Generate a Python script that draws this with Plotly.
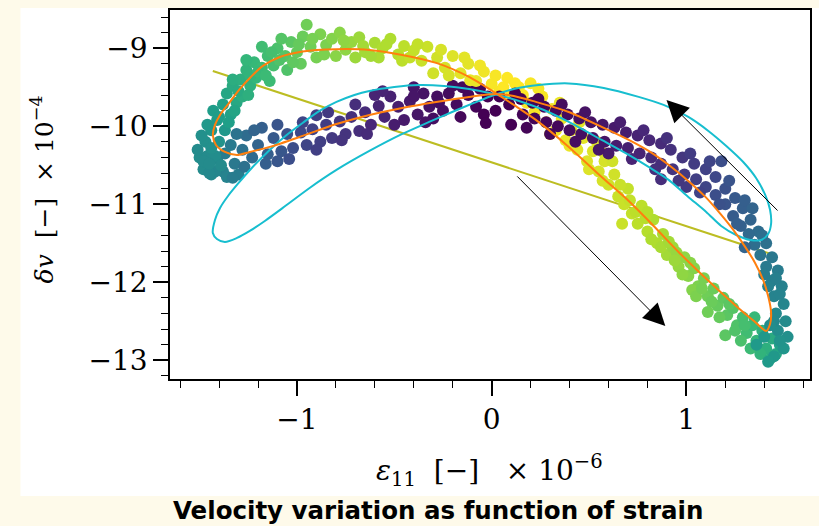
import plotly.graph_objects as go

# ---------------- data ----------------
# upper-left branch (rising, teal -> yellow)
rise_eps = [-1.51, -1.48, -1.45, -1.47, -1.42, -1.44, -1.40, -1.46, -1.41, -1.37, -1.43, -1.38, -1.34, -1.36, -1.31,
            -1.33, -1.28, -1.29, -1.24, -1.26, -1.21, -1.22, -1.18, -1.15, -1.12, -1.10, -1.06, -1.03, -1.00, -0.97,
            -0.95, -0.93, -0.88, -0.85, -0.82, -0.78, -0.75, -0.72, -0.68, -0.65, -0.60, -0.56, -0.52, -0.48, -0.45,
            -0.40, -0.36, -0.33, -0.28, -0.24, -0.20, -0.16, -0.12, -0.08, -0.04, 0.00, 0.04, 0.08, 0.10,
            -1.33, -1.26, -1.18, -1.08, -1.14, -1.05, -0.98, -0.90, -0.80, -0.70, -0.58, -0.46, -0.30, -0.11,
            -1.49, -1.45, -1.39, -1.44, -1.40, -1.35, -1.32, -1.30, -1.25, -1.24, -1.20, -1.16, -1.13, -1.09, -1.02,
            -0.99, -0.92, -0.86, -0.76, -0.66, -0.62, -0.54, -0.42, -0.38, -0.26, -0.22, -0.14, -0.06, 0.02, 0.06, 0.12]
rise_dv = [-10.30, -10.45, -10.60, -10.20, -10.38, -10.05, -10.20, -9.98, -9.92, -10.05, -9.80, -9.72, -9.85, -9.58, -9.70,
           -9.48, -9.62, -9.40, -9.48, -9.28, -9.38, -9.18, -9.25, -9.10, -9.22, -9.00, -9.10, -8.92, -9.05, -8.85,
           -8.70, -8.98, -8.82, -8.96, -8.88, -8.80, -9.02, -8.92, -8.86, -9.05, -8.93, -9.00, -8.88, -9.08, -8.97,
           -9.03, -9.16, -8.98, -9.12, -9.25, -9.10, -9.32, -9.20, -9.42, -9.30, -9.46, -9.55, -9.38, -9.60,
           -9.40, -9.15, -8.98, -8.88, -9.42, -9.28, -9.20, -9.12, -9.10, -9.12, -9.12, -9.16, -9.32, -9.41,
           -10.12, -10.48, -10.50, -10.28, -9.88, -9.95, -9.80, -9.55, -9.60, -9.35, -9.30, -9.35, -9.05, -9.15, -9.18,
           -8.95, -8.88, -9.08, -8.90, -8.97, -9.10, -8.95, -9.12, -8.95, -9.02, -9.35, -9.12, -9.22, -9.35, -9.50, -9.45]
rise_rate = [0.48, 0.48, 0.47, 0.50, 0.49, 0.52, 0.51, 0.53, 0.54, 0.53, 0.55, 0.57, 0.57, 0.59, 0.60,
             0.61, 0.62, 0.63, 0.64, 0.65, 0.66, 0.67, 0.68, 0.69, 0.70, 0.71, 0.73, 0.74, 0.76, 0.77,
             0.78, 0.78, 0.80, 0.80, 0.81, 0.82, 0.83, 0.84, 0.85, 0.86, 0.87, 0.88, 0.88, 0.89, 0.90,
             0.91, 0.92, 0.92, 0.93, 0.94, 0.95, 0.96, 0.96, 0.97, 0.98, 0.99, 0.99, 1.00, 1.00,
             0.62, 0.66, 0.69, 0.73, 0.68, 0.72, 0.76, 0.79, 0.82, 0.85, 0.87, 0.90, 0.93, 0.97,
             0.50, 0.48, 0.48, 0.50, 0.55, 0.56, 0.58, 0.61, 0.63, 0.65, 0.67, 0.68, 0.70, 0.72, 0.75,
             0.76, 0.79, 0.80, 0.83, 0.86, 0.86, 0.88, 0.91, 0.91, 0.94, 0.94, 0.96, 0.98, 0.99, 1.00, 1.00]

# right lower branch (falling, yellow -> teal)
fall_eps = [0.14, 0.18, 0.20, 0.22, 0.26, 0.28, 0.31, 0.33, 0.36, 0.38, 0.41, 0.44, 0.47, 0.49, 0.52, 0.55, 0.58,
            0.60, 0.63, 0.65, 0.68, 0.70, 0.72, 0.75, 0.77, 0.80, 0.83, 0.85, 0.88, 0.90, 0.93, 0.96, 0.99, 1.01,
            1.04, 1.06, 1.09, 1.11, 1.14, 1.16, 1.19, 1.21, 1.24, 1.26, 1.29, 1.31, 1.34, 1.36, 1.39, 1.41, 1.44,
            1.46, 1.48, 0.58, 0.67, 1.11, 1.20, 1.03, 1.28, 0.80, 0.95,
            0.16, 0.24, 0.30, 0.35, 0.40, 0.45, 0.50, 0.54, 0.57, 0.62, 0.66, 0.71, 0.74, 0.79, 0.82, 0.87, 0.91,
            0.94, 0.98, 1.02, 1.05, 1.08, 1.13, 1.17, 1.22, 1.25, 1.30, 1.33, 1.38, 1.43, 1.35]
fall_dv = [-9.50, -9.70, -9.45, -9.82, -9.62, -9.95, -9.78, -10.05, -9.90, -10.18, -10.05, -10.30, -10.15, -10.45,
           -10.32, -10.58, -10.45, -10.75, -10.62, -10.90, -11.00, -10.80, -11.12, -11.25, -11.02, -11.35, -11.20,
           -11.50, -11.38, -11.65, -11.55, -11.80, -11.68, -11.92, -11.82, -12.05, -11.95, -12.18, -12.08, -12.30,
           -12.20, -12.42, -12.33, -12.55, -12.45, -12.65, -12.55, -12.75, -12.62, -12.85, -12.72, -12.92, -12.80,
           -10.35, -11.25, -12.38, -12.68, -12.10, -12.75, -11.10, -11.62,
           -9.60, -9.52, -10.10, -9.70, -10.25, -9.95, -10.55, -10.20, -10.70, -10.45, -10.75, -10.95, -11.10, -11.18,
           -11.45, -11.55, -11.48, -11.72, -11.90, -11.75, -12.18, -12.08, -12.25, -12.45, -12.28, -12.62, -12.55,
           -12.85, -12.92, -12.98, -12.45]
fall_rate = [1.00, 1.00, 0.99, 0.99, 0.99, 0.98, 0.98, 0.98, 0.97, 0.97, 0.97, 0.96, 0.96, 0.95, 0.95, 0.94, 0.94,
             0.93, 0.93, 0.92, 0.92, 0.91, 0.91, 0.90, 0.90, 0.89, 0.88, 0.88, 0.87, 0.86, 0.85, 0.84, 0.83, 0.82,
             0.81, 0.80, 0.79, 0.78, 0.77, 0.76, 0.75, 0.74, 0.73, 0.72, 0.70, 0.69, 0.67, 0.66, 0.64, 0.63, 0.61,
             0.59, 0.57, 0.94, 0.92, 0.78, 0.74, 0.81, 0.71, 0.89, 0.84,
             1.00, 0.99, 0.98, 0.97, 0.97, 0.96, 0.95, 0.95, 0.94, 0.93, 0.92, 0.91, 0.90, 0.89, 0.88, 0.87, 0.86,
             0.85, 0.83, 0.82, 0.80, 0.79, 0.77, 0.76, 0.74, 0.72, 0.70, 0.68, 0.65, 0.62, 0.67]

# right upper branch (recovering, teal -> dark purple)
rec_eps = [1.50, 1.45, 1.52, 1.47, 1.51, 1.46, 1.50, 1.45, 1.49, 1.44, 1.47, 1.41, 1.44, 1.38, 1.41, 1.35, 1.37,
           1.32, 1.33, 1.28, 1.29, 1.24, 1.25, 1.20, 1.20, 1.15, 1.15, 1.10, 1.10, 1.05, 1.04, 0.99, 0.98, 0.93,
           0.92, 0.87, 0.87, 0.82, 0.81, 0.76, 0.75, 0.70, 0.69, 0.64, 0.63, 0.58, 0.57, 0.52, 0.51, 0.46, 0.45,
           0.40, 0.39, 0.34, 0.33, 0.28, 0.27, 0.22, 0.21, 0.16, 0.15, 0.10, 0.09, 0.04, 0.02, -0.03,
           1.36, 1.40, 1.42, 1.30, 1.18, 0.87, 1.00, 0.60, 1.45,
           1.48, 1.43, 1.48, 1.42, 1.46, 1.40, 1.39, 1.34, 1.30, 1.26, 1.22, 1.17, 1.12, 1.07, 1.02, 0.96, 0.90,
           0.84, 0.78, 0.72, 0.66, 0.55, 0.48, 0.43, 0.36, 0.30, 0.24, 0.18, 0.12]
rec_dv = [-12.85, -12.95, -12.70, -12.62, -12.50, -12.40, -12.28, -12.18, -12.05, -11.98, -11.85, -11.80, -11.68,
          -11.65, -11.50, -11.52, -11.35, -11.38, -11.20, -11.28, -11.05, -11.15, -10.92, -11.00, -10.80, -10.88,
          -10.65, -10.78, -10.55, -10.68, -10.48, -10.62, -10.40, -10.55, -10.30, -10.48, -10.22, -10.40, -10.18,
          -10.35, -10.12, -10.28, -10.08, -10.25, -10.02, -10.20, -9.98, -10.15, -9.95, -10.10, -9.90, -10.05,
          -9.85, -10.00, -9.80, -9.95, -9.75, -9.90, -9.70, -9.85, -9.65, -9.98, -9.72, -9.62, -9.80, -9.96,
          -12.80, -12.70, -13.02, -11.55, -10.45, -10.68, -10.78, -10.35, -12.50,
          -12.75, -12.55, -12.15, -12.05, -11.95, -11.90, -11.40, -11.05, -10.95, -11.25, -10.70, -11.00, -10.45,
          -10.85, -10.35, -10.70, -10.15, -10.55, -10.05, -10.42, -9.95, -10.30, -9.82, -10.20, -9.72, -10.10,
          -9.65, -10.02, -9.58]
rec_rate = [0.52, 0.53, 0.50, 0.49, 0.48, 0.47, 0.46, 0.45, 0.44, 0.43, 0.42, 0.41, 0.40, 0.39, 0.37, 0.36, 0.35,
            0.34, 0.32, 0.31, 0.30, 0.29, 0.28, 0.26, 0.25, 0.24, 0.22, 0.21, 0.20, 0.19, 0.18, 0.17, 0.16, 0.15,
            0.14, 0.13, 0.12, 0.12, 0.11, 0.10, 0.10, 0.09, 0.08, 0.08, 0.07, 0.06, 0.06, 0.05, 0.05, 0.04, 0.04,
            0.03, 0.03, 0.02, 0.02, 0.02, 0.01, 0.01, 0.01, 0.01, 0.00, 0.00, 0.00, 0.00, 0.00, 0.00,
            0.54, 0.53, 0.54, 0.32, 0.24, 0.13, 0.17, 0.07, 0.47,
            0.51, 0.49, 0.45, 0.44, 0.43, 0.42, 0.36, 0.32, 0.30, 0.30, 0.26, 0.25, 0.21, 0.20, 0.18, 0.16, 0.14,
            0.13, 0.11, 0.10, 0.08, 0.06, 0.05, 0.04, 0.03, 0.02, 0.01, 0.01, 0.00]

# lower-left branch (returning, dark purple -> teal)
ret_eps = [-0.02, -0.06, -0.08, -0.12, -0.15, -0.18, -0.22, -0.25, -0.28, -0.32, -0.35, -0.38, -0.42, -0.45, -0.48,
           -0.52, -0.55, -0.58, -0.62, -0.65, -0.68, -0.72, -0.75, -0.78, -0.82, -0.85, -0.88, -0.92, -0.95, -0.98,
           -1.02, -1.05, -1.08, -1.12, -1.15, -1.18, -1.20, -1.23, -1.26, -1.28, -1.32, -1.34, -1.38, -1.41, -1.44,
           -1.48, -1.50, -0.30, -0.60, -0.90, -1.10, -0.40, -1.36, -1.30,
           -0.04, -0.10, -0.16, -0.20, -0.27, -0.34, -0.40, -0.50, -0.56, -0.64, -0.70, -0.77, -0.84, -0.90, -0.97,
           -1.04, -1.10, -1.16, -1.22, -1.27, -1.31, -1.37, -1.42, -1.46, -1.33]
ret_dv = [-9.62, -9.52, -9.75, -9.60, -9.50, -9.72, -9.58, -9.80, -9.62, -9.75, -9.58, -9.85, -9.68, -9.92, -9.75,
          -9.62, -9.88, -9.74, -9.98, -9.82, -10.06, -9.88, -10.10, -9.94, -10.15, -9.98, -10.20, -10.04, -10.24,
          -10.08, -10.28, -10.10, -10.32, -10.15, -10.36, -10.02, -10.24, -10.40, -10.12, -10.30, -10.48, -10.24,
          -10.58, -10.42, -10.62, -10.55, -10.40, -9.90, -9.60, -9.86, -10.45, -9.50, -10.65, -10.62,
          -9.85, -9.45, -9.88, -9.48, -9.70, -9.95, -9.62, -9.98, -9.55, -10.10, -9.72, -10.18, -9.82, -10.30,
          -9.95, -10.42, -9.98, -10.48, -10.05, -10.52, -10.10, -10.35, -10.58, -10.38, -10.66]
ret_rate = [0.00, 0.01, 0.01, 0.02, 0.02, 0.03, 0.03, 0.04, 0.04, 0.05, 0.05, 0.06, 0.07, 0.07, 0.08,
            0.09, 0.10, 0.10, 0.11, 0.12, 0.13, 0.14, 0.15, 0.16, 0.17, 0.18, 0.19, 0.20, 0.21, 0.22,
            0.24, 0.25, 0.27, 0.28, 0.30, 0.30, 0.32, 0.34, 0.35, 0.37, 0.40, 0.41, 0.44, 0.46, 0.47,
            0.48, 0.49, 0.04, 0.10, 0.19, 0.27, 0.06, 0.45, 0.42,
            0.00, 0.01, 0.02, 0.03, 0.04, 0.05, 0.06, 0.08, 0.10, 0.12, 0.13, 0.15, 0.17, 0.19, 0.21,
            0.24, 0.26, 0.30, 0.32, 0.37, 0.38, 0.42, 0.46, 0.48, 0.42]

# fitted hysteresis model (orange)
fit_eps = [1.410, 1.430, 1.435, 1.420, 1.394, 1.353, 1.302, 1.241, 1.175, 1.098, 1.010, 0.923, 0.806, 0.704, 0.565,
           0.396, 0.227, 0.114, 0.022, -0.116, -0.285, -0.459, -0.628, -0.797, -0.971, -1.140, -1.242, -1.308,
           -1.370, -1.416, -1.432, -1.421, -1.395, -1.344, -1.293, -1.237, -1.175, -1.088, -0.971, -0.797, -0.628,
           -0.459, -0.285, -0.116, 0.012, 0.114, 0.227, 0.396, 0.565, 0.704, 0.832, 0.960, 1.098, 1.267, 1.353, 1.410]
fit_dv = [-12.624, -12.535, -12.381, -12.175, -11.970, -11.752, -11.547, -11.329, -11.124, -10.906, -10.701, -10.522,
          -10.317, -10.176, -10.009, -9.817, -9.688, -9.612, -9.586, -9.624, -9.688, -9.765, -9.855, -9.971, -10.124,
          -10.265, -10.329, -10.368, -10.329, -10.240, -10.112, -9.983, -9.855, -9.688, -9.522, -9.368, -9.227,
          -9.112, -9.041, -9.013, -9.022, -9.086, -9.188, -9.368, -9.562, -9.727, -9.919, -10.265, -10.650, -10.958,
          -11.278, -11.612, -11.945, -12.329, -12.509, -12.624]

# elliptic model (cyan)
ell_eps = [-1.432, -1.421, -1.395, -1.354, -1.304, -1.232, -1.140, -1.053, -0.971, -0.884, -0.797, -0.705, -0.628,
           -0.500, -0.372, -0.244, -0.116, 0.012, 0.140, 0.268, 0.396, 0.565, 0.704, 0.806, 0.909, 1.010, 1.102,
           1.179, 1.256, 1.328, 1.384, 1.420, 1.435, 1.430, 1.405, 1.358, 1.292, 1.205, 1.113, 1.010, 0.883, 0.755,
           0.576, 0.396, 0.242, 0.114, 0.012, -0.091, -0.203, -0.321, -0.459, -0.628, -0.797, -0.935, -1.073,
           -1.165, -1.242, -1.308, -1.370, -1.411, -1.432]
ell_dv = [-11.368, -11.201, -11.047, -10.894, -10.740, -10.535, -10.304, -10.112, -9.958, -9.804, -9.688, -9.599,
          -9.547, -9.496, -9.471, -9.483, -9.522, -9.586, -9.676, -9.792, -9.945, -10.176, -10.368, -10.522, -10.688,
          -10.906, -11.099, -11.278, -11.394, -11.458, -11.458, -11.381, -11.253, -11.073, -10.881, -10.663, -10.458,
          -10.253, -10.060, -9.881, -9.727, -9.624, -9.509, -9.451, -9.471, -9.522, -9.599, -9.701, -9.817, -9.945,
          -10.099, -10.317, -10.560, -10.791, -11.047, -11.214, -11.342, -11.432, -11.483, -11.445, -11.368]

# linear model (olive)
lin_eps = [-1.432, 1.435]
lin_dv = [-9.291, -11.637]

# direction arrows: (tail eps, tail dv) -> (head eps, head dv)
arrow_tail_eps = [1.476, 0.124]
arrow_tail_dv = [-11.099, -10.624]
arrow_head_eps = [0.898, 0.892]
arrow_head_dv = [-9.663, -12.560]

x_ticks = [-1, 0, 1]
y_ticks = [-13, -12, -11, -10, -9]

# ---------------- figure ----------------
CREAM = "#fefaea"
SERIF = "DejaVu Serif"
W, H = 819, 526
ML, MR, MT, MB = 170, 7, 10, 147
PW, PH = W - ML - MR, H - MT - MB


def px(x):
    return (x - ML) / PW


def py(y):
    return (H - MB - y) / PH


fig = go.Figure()
fig.add_trace(go.Scatter(x=lin_eps, y=lin_dv, mode="lines",
                         line=dict(color="#bcbd22", width=2), hoverinfo="skip"))
for ex, ey, ec in [(ret_eps, ret_dv, ret_rate), (rise_eps, rise_dv, rise_rate),
                   (fall_eps, fall_dv, fall_rate), (rec_eps, rec_dv, rec_rate)]:
    fig.add_trace(go.Scatter(x=ex, y=ey, mode="markers",
                             marker=dict(size=12, color=ec, colorscale="Viridis", cmin=0, cmax=1,
                                         line=dict(width=0)), hoverinfo="skip"))
fig.add_trace(go.Scatter(x=ell_eps, y=ell_dv, mode="lines",
                         line=dict(color="#17becf", width=2, shape="spline", smoothing=0.8), hoverinfo="skip"))
fig.add_trace(go.Scatter(x=fit_eps, y=fit_dv, mode="lines",
                         line=dict(color="#ff7f0e", width=2, shape="spline", smoothing=0.8), hoverinfo="skip"))

NB = "\u00a0"
annotations = []
for tx, ty, hx, hy in zip(arrow_tail_eps, arrow_tail_dv, arrow_head_eps, arrow_head_dv):
    annotations.append(dict(x=hx, y=hy, ax=tx, ay=ty, xref="x", yref="y", axref="x", ayref="y",
                            text="", showarrow=True, arrowhead=2, arrowsize=4.4, arrowwidth=1,
                            arrowcolor="black"))
annotations.append(dict(x=px(42), y=py(189), xref="paper", yref="paper", showarrow=False,
                        textangle=-90, xanchor="center", yanchor="middle",
                        text="<i>δv</i>" + NB * 2 + "[−]" + NB * 2 + "×" + NB + "10<sup>−4</sup>",
                        font=dict(family=SERIF, size=25, color="black")))
annotations.append(dict(x=px(490), y=py(470), xref="paper", yref="paper", showarrow=False,
                        xanchor="center", yanchor="middle",
                        text="<i>ε</i><sub>11</sub>" + NB * 2 + "[−]" + NB * 3 + "×" + NB + "10<sup>−6</sup>",
                        font=dict(family=SERIF, size=28, color="black")))
annotations.append(dict(x=px(439), y=py(510), xref="paper", yref="paper", showarrow=False,
                        xanchor="center", yanchor="middle",
                        text="<b>Velocity variation as function of strain</b>",
                        font=dict(family="DejaVu Sans", size=24.5, color="black")))

shapes = [dict(type="rect", xref="paper", yref="paper", layer="below",
               x0=px(20), x1=px(W + 5), y0=py(496), y1=py(8),
               fillcolor="white", line=dict(width=0))]

axis_common = dict(showgrid=False, zeroline=False, showline=True, mirror=True, linecolor="black",
                   linewidth=1.6, ticks="outside", ticklen=15, tickwidth=1.6, tickcolor="black",
                   tickfont=dict(family=SERIF, size=28, color="black"))
fig.update_layout(
    width=W, height=H, margin=dict(l=ML, r=MR, t=MT, b=MB),
    paper_bgcolor=CREAM, plot_bgcolor="white", showlegend=False,
    annotations=annotations, shapes=shapes,
    xaxis=dict(range=[-1.652, 1.635], tickvals=x_ticks,
               minor=dict(ticks="outside", ticklen=7, tickwidth=1.2, tickcolor="black", dtick=0.2, tick0=0),
               **axis_common),
    yaxis=dict(range=[-13.24, -8.51], tickvals=y_ticks,
               minor=dict(ticks="outside", ticklen=7, tickwidth=1.2, tickcolor="black", dtick=0.2, tick0=0),
               **axis_common),
)
fig.write_html("out.html")
